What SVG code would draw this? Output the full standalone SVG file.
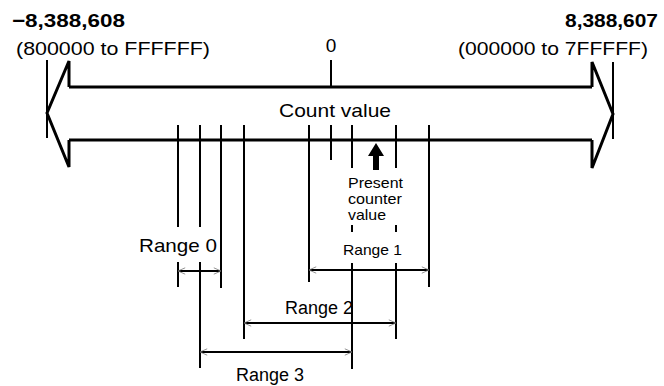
<svg xmlns="http://www.w3.org/2000/svg" width="664" height="386" viewBox="0 0 664 386">
<style>
text{font-family:"Liberation Sans",Arial,Helvetica,sans-serif;fill:#000}
.big{font-size:19px}
.bold{font-weight:bold}
.outline{fill:none;stroke:#000;stroke-width:3;stroke-linejoin:miter}
.tick{stroke:#000;stroke-width:2;fill:none}
.dim{stroke:#000;stroke-width:2;fill:none;marker-start:url(#chev);marker-end:url(#chev)}
</style>
<defs>
<marker id="chev" viewBox="0 0 10 10" refX="10" refY="5" markerWidth="8" markerHeight="8" markerUnits="userSpaceOnUse" orient="auto-start-reverse">
<path d="M1,1 L10,5 L1,9" fill="none" stroke="#777" stroke-width="1"/>
</marker>
</defs>
<rect width="664" height="386" fill="#fff"/>

<g id="count-axis">
<path class="outline" d="M69,87 V61 L47,113 L69,167 V140 M69,87 H592 M69,140 H592 M592,87 V62 L613,114 L592,168 V140"/>
<line class="tick" x1="47" y1="60" x2="47" y2="138"/>
<line class="tick" x1="613" y1="62" x2="613" y2="139"/>
<text x="279" y="117" class="big" font-size="20" textLength="112" lengthAdjust="spacingAndGlyphs">Count value</text>
</g>

<g id="min-label">
<text x="12" y="27" class="big bold" textLength="113" lengthAdjust="spacingAndGlyphs">−8,388,608</text>
<text x="16" y="55" class="big" textLength="194" lengthAdjust="spacingAndGlyphs">(800000 to FFFFFF)</text>
</g>

<g id="max-label">
<text x="565" y="27" class="big bold" textLength="93" lengthAdjust="spacingAndGlyphs">8,388,607</text>
<text x="458" y="55" class="big" textLength="190" lengthAdjust="spacingAndGlyphs">(000000 to 7FFFFF)</text>
</g>

<g id="zero">
<text x="331" y="52" class="big" text-anchor="middle" font-size="20">0</text>
</g>

<g id="present-value">
<polygon points="376,143 368,156 373,156 373,170 379,170 379,156 384,156" fill="#000"/>
<text x="348" y="188" font-size="15" textLength="55" lengthAdjust="spacingAndGlyphs">Present</text>
<text x="348" y="204" font-size="15" textLength="54" lengthAdjust="spacingAndGlyphs">counter</text>
<text x="348" y="220" font-size="15" textLength="38" lengthAdjust="spacingAndGlyphs">value</text>
</g>

<g id="range0">
<text x="139" y="252" class="big" textLength="78" lengthAdjust="spacingAndGlyphs">Range 0</text>
</g>
<g id="range1">
<text x="343" y="255" font-size="15" textLength="59" lengthAdjust="spacingAndGlyphs">Range 1</text>
</g>
<g id="range2">
<text x="285" y="314" font-size="18" textLength="68" lengthAdjust="spacingAndGlyphs">Range 2</text>
</g>
<g id="range3">
<text x="236" y="381" font-size="18" textLength="68" lengthAdjust="spacingAndGlyphs">Range 3</text>
</g>

<g id="connectors">
<line class="tick" x1="331" y1="60" x2="331" y2="88"/>
<path class="tick" d="M178,125 V227 M178,262 V287
M200,125 V227 M200,262 V368
M221,125 V288
M244,125 V339
M309,125 V282
M331,125 V160
M352,125 V168 M352,225 V232 M352,263 V369
M396,125 V168 M396,225 V232 M396,263 V339
M429,125 V287"/>
<line class="dim" x1="178" y1="271" x2="221" y2="271"/>
<line class="dim" x1="309" y1="270" x2="429" y2="270"/>
<line class="dim" x1="244" y1="323" x2="396" y2="323"/>
<line class="dim" x1="200" y1="352" x2="352" y2="352"/>
</g>
</svg>
